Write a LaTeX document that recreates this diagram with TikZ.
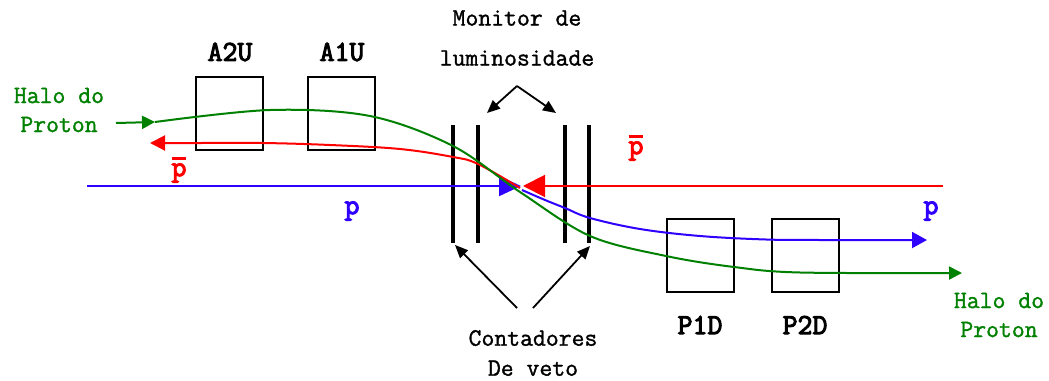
\documentclass[tikz,border=0pt]{standalone}
\usepackage{fontspec}
\newfontfamily\courm{Latin Modern Mono}[FakeBold=1.3]
\newfontfamily\courb{Latin Modern Mono}[FakeBold=3.5]
\usetikzlibrary{arrows.meta}
\definecolor{gr}{RGB}{0,128,0}
\definecolor{rd}{RGB}{255,0,0}
\definecolor{bl}{RGB}{48,0,255}
\newcommand{\pbarsym}{\vbox{\hrule height 3pt\kern 3pt\hbox{\courb p}}}
\begin{document}
\begin{tikzpicture}[x=1pt,y=-1pt,
  det/.style={draw=black,line width=2pt,minimum width=67pt,minimum height=73pt,inner sep=0pt},
  lbl/.style={font=\fontsize{29}{30}\selectfont\courb},
  txt/.style={font=\fontsize{25}{29}\selectfont\courm,align=center},
  bar/.style={line width=3.5pt},
  beam/.style={line width=2pt},
  blk/.style={line width=1.8pt,-{Triangle[length=13pt,width=11pt]}}]
\useasboundingbox (0,0) rectangle (1049,380);
% detectors
\node[det] (a2u) at (229.5,113.5) {};
\node[det] (a1u) at (341.5,113.5) {};
\node[det] (p1d) at (700,255) {};
\node[det] (p2d) at (805,255) {};
\node[lbl] at (230,52) {A2U};
\node[lbl] at (342,52) {A1U};
\node[lbl] at (700,325) {P1D};
\node[lbl] at (805,325) {P2D};
% counters
\foreach \n/\x in {b1/453,b2/478,b3/565,b4/589}{
  \coordinate (\n t) at (\x,125);
  \coordinate (\n b) at (\x,243);
  \draw[bar] (\n t) -- (\n b);
}
% blue beam
\coordinate (bs) at (87,186);
\coordinate (bm) at (521,186);
\draw[beam,bl,-{Triangle[length=22pt,width=20pt]}] (bs) -- (bm);
\draw[beam,bl,-{Triangle[length=15pt,width=16pt]}] plot[smooth,tension=0.6] coordinates {(522,190) (545,200) (565,208) (590,218) (640,229) (700,236) (766,239.5) (820,240) (927,240)};
% red beam
\coordinate (rs) at (943,186);
\coordinate (rm) at (523,186);
\draw[beam,rd,-{Triangle[length=22pt,width=22pt]}] (rs) -- (rm);
\draw[beam,rd,-{Triangle[length=15pt,width=15pt]}] plot[smooth,tension=0.6] coordinates {(520,188) (478,164) (453,157) (400,149) (330,145) (263,143) (200,143) (150,143)};
% green halo
\coordinate (gs) at (116,123);
\coordinate (gm) at (155,122);
\draw[beam,gr,-{Triangle[length=13pt,width=13pt]}] (gs) -- (gm);
\draw[beam,gr,-{Triangle[length=13pt,width=13pt]}] plot[smooth,tension=0.55] coordinates {(155,122) (270,110) (370,116) (453,146) (520,192) (590,236) (666,256) (734,267) (800,272.5) (962,273)};
% labels
\node[txt,gr] at (59,110) {Halo do\\Proton};
\node[txt,gr] at (999,315) {Halo do\\Proton};
\node[txt,font=\fontsize{25}{40}\selectfont\courm] at (517,38) {Monitor de\\luminosidade};
\node[txt,font=\fontsize{25}{30}\selectfont\courm] at (533,353) {Contadores\\De veto};
\node[rd,lbl] at (179,170) {\pbarsym};
\node[rd,lbl] at (636,148) {\pbarsym};
\node[bl,lbl] at (352,211) {p};
\node[bl,lbl] at (931,211) {p};
% pointer arrows
\coordinate (mtop) at (517,86);
\coordinate (m1) at (487,113);
\coordinate (m2) at (556,113);
\draw[blk] (mtop) -- (m1);
\draw[blk] (mtop) -- (m2);
\coordinate (c1) at (517,308);
\coordinate (c2) at (533,308);
\coordinate (t1) at (455,245);
\coordinate (t2) at (590,246);
\draw[blk] (c1) -- (t1);
\draw[blk] (c2) -- (t2);
\end{tikzpicture}
\end{document}
